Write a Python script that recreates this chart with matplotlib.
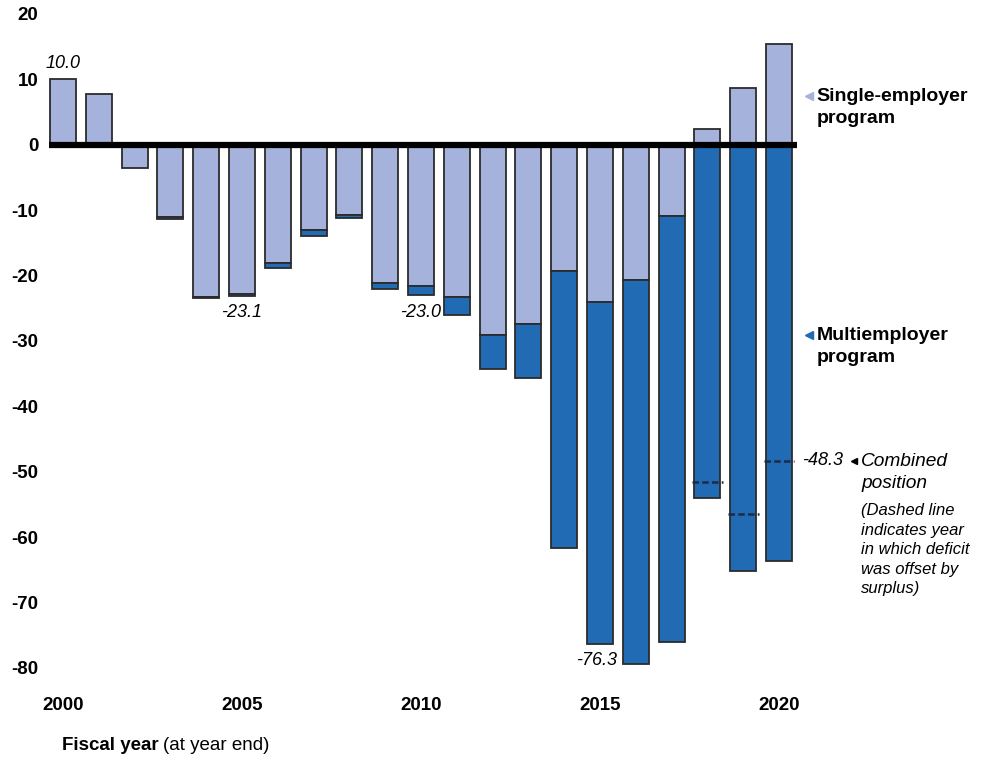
import matplotlib
matplotlib.use("Agg")
import matplotlib.pyplot as plt
import numpy as np

plt.rcParams["font.family"] = ["Liberation Sans", "DejaVu Sans"]

years = np.arange(2000, 2021)
# net position, $ billions
single_employer = [10.0, 7.7, -3.6, -11.1, -23.3, -22.8, -18.1, -13.1, -10.7, -21.1,
                   -21.6, -23.3, -29.1, -27.4, -19.3, -24.1, -20.6, -10.9, 2.4, 8.7, 15.4]
multiemployer = [0.0, 0.0, 0.0, -0.3, -0.2, -0.3, -0.7, -0.9, -0.5, -0.9,
                 -1.4, -2.8, -5.2, -8.3, -42.4, -52.2, -58.8, -65.1, -54.0, -65.2, -63.7]
labelled_totals = [2005, 2010, 2015]
offset_years = [2018, 2019, 2020]
y_ticks = [20, 10, 0, -10, -20, -30, -40, -50, -60, -70, -80]
x_ticks = [2000, 2005, 2010, 2015, 2020]

LIGHT = "#a5b3dc"
DARK = "#216bb5"
EDGE = "#2b2b2b"

single = np.array(single_employer)
multi = np.array(multiemployer)
total = single + multi
multi_base = np.where(single < 0, single, 0.0)

fig = plt.figure(figsize=(9.88, 7.63), dpi=100)
ax = fig.add_axes([40 / 988, 95 / 763, 760 / 988, 654 / 763])

width = 0.726
ax.bar(years, single, width=width, color=LIGHT, edgecolor=EDGE, linewidth=1.3, zorder=2)
has_multi = multi != 0
ax.bar(years[has_multi], multi[has_multi], bottom=multi_base[has_multi], width=width,
       color=DARK, edgecolor=EDGE, linewidth=1.3, zorder=2)

ax.hlines(0, 1999.62, 2020.5, color="black", linewidth=4.5, zorder=4)

# combined position where the deficit was offset by surplus
for yr in offset_years:
    i = yr - 2000
    ax.hlines(total[i], yr - 0.43, yr + 0.43, color="#1c2b4a", linewidth=1.8,
              linestyles=(0, (2.6, 1.3)), zorder=5)

ax.text(2000, single[0] + 1.2, f"{single[0]:.1f}", ha="center", va="bottom",
        fontsize=13, style="italic")
for yr in labelled_totals:
    i = yr - 2000
    ax.text(yr - 0.1 if yr == 2015 else yr, total[i] - 1.3, f"{total[i]:.1f}",
            ha="center", va="top", fontsize=13, style="italic")

ax.set_xlim(1999.358, 2020.587)
ax.set_ylim(-80, 20)
ax.set_yticks(y_ticks)
ax.set_yticklabels([str(v) for v in y_ticks], fontweight="bold", fontsize=13.5)
ax.set_xticks(x_ticks)
ax.set_xticklabels([str(v) for v in x_ticks], fontweight="bold", fontsize=13.5)
ax.tick_params(axis="y", length=0, pad=1)
ax.tick_params(axis="x", length=0, pad=21)
for sp in ax.spines.values():
    sp.set_visible(False)

# right-hand key
ax.plot([2020.83], [7.5], marker="<", color=LIGHT, markersize=6, clip_on=False)
ax.text(2021.05, 7.5 + 1.25, "Single-employer\nprogram", ha="left", va="top", fontsize=14,
        fontweight="bold", linespacing=1.42)
ax.plot([2020.83], [-29.05], marker="<", color=DARK, markersize=6, clip_on=False)
ax.text(2021.05, -29.05 + 1.25, "Multiemployer\nprogram", ha="left", va="top", fontsize=14,
        fontweight="bold", linespacing=1.42)

ax.text(2020.64, total[-1], f"{total[-1]:.1f}", ha="left", va="center", fontsize=13,
        style="italic")
ax.plot([2022.1], [total[-1]], marker="<", color="black", markersize=5, clip_on=False)
ax.text(2022.3, total[-1] + 1.25, "Combined\nposition", ha="left", va="top", fontsize=13.8,
        style="italic", linespacing=1.42)
ax.text(2022.3, -54.8, "(Dashed line\nindicates year\nin which deficit\nwas offset by\nsurplus)",
        ha="left", va="top", fontsize=12, style="italic", linespacing=1.38)

fig.text(62 / 988, 1 - 746 / 763, "Fiscal year", fontsize=13.5, fontweight="bold",
         ha="left", va="center")
fig.text(163 / 988, 1 - 746 / 763, "(at year end)", fontsize=13.5, ha="left", va="center")

fig.savefig("out.png", dpi=100)
